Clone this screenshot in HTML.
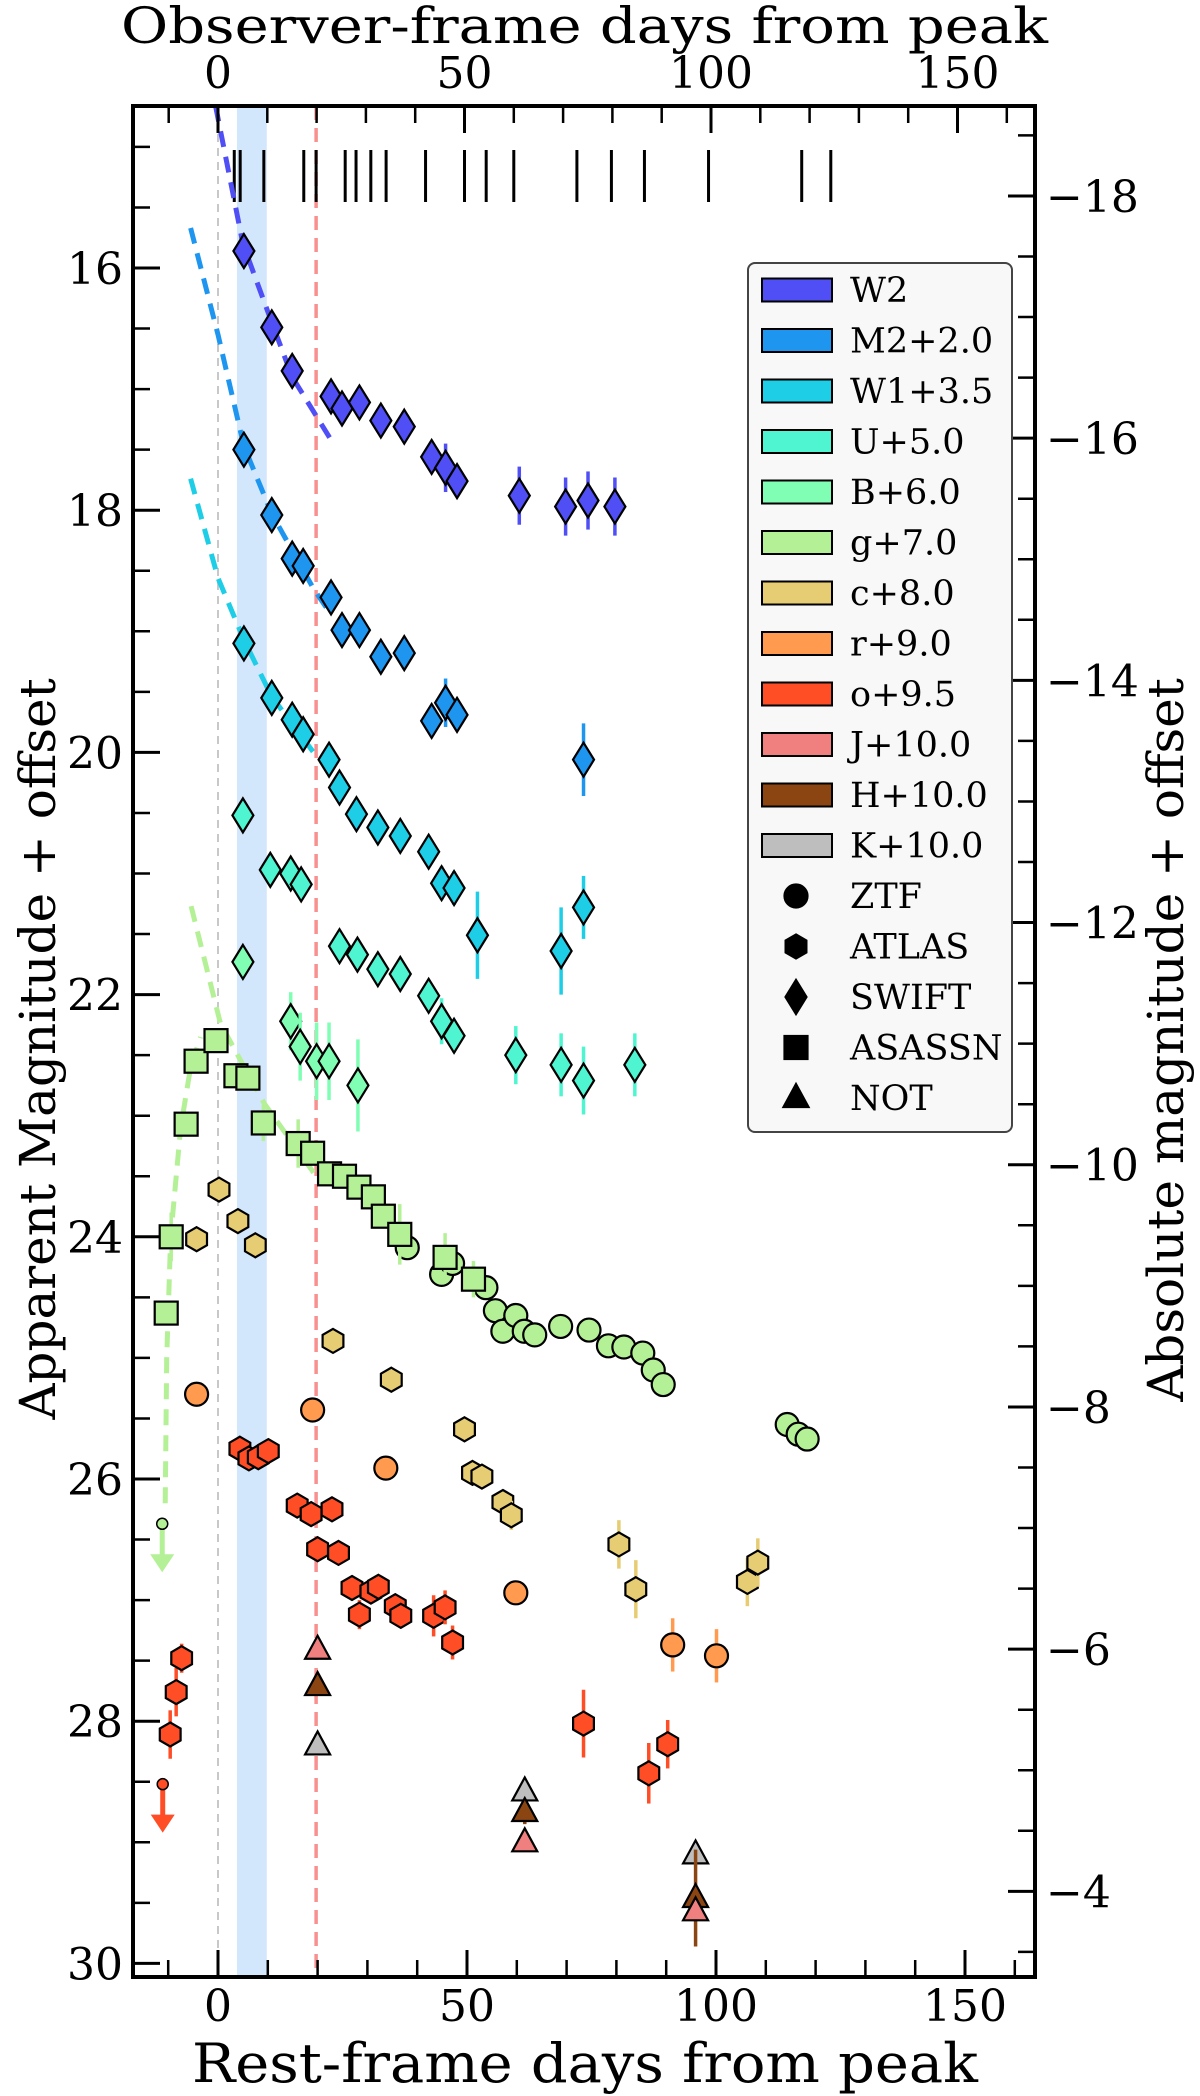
<!DOCTYPE html>
<html><head><meta charset="utf-8"><style>
html,body{margin:0;padding:0;background:#fff;}
svg{display:block;font-family:"DejaVu Serif","Liberation Serif",serif;}
</style></head><body>
<svg id="chart" width="1200" height="2096" viewBox="0 0 1200 2096" xmlns="http://www.w3.org/2000/svg">
<defs><clipPath id="plotclip"><rect x="133" y="106" width="902" height="1871"/></clipPath></defs>
<g id="bg" clip-path="url(#plotclip)"></g>
<g id="marks" clip-path="url(#plotclip)"></g>
<g id="axes"></g>
<g id="legend"></g>
</svg>
<script>
// ---- data ----
const epochDays = [3.3,4.5,9.3,17.4,19.9,25.8,28.0,31.0,34.1,42.1,50.0,54.4,60.0,72.8,79.8,86.5,99.5,118.4,124.3];
const w2Days = [5.2,10.8,14.9,22.7,24.9,28.4,32.7,37.4,42.9,45.7,48.0,60.5,69.8,74.3,79.7];
const w2Mags = [15.86,16.49,16.85,17.06,17.16,17.11,17.26,17.31,17.56,17.65,17.76,17.88,17.97,17.92,17.97];
const w2Errs = [0.03,0.03,0.03,0.1,0.05,0.05,0.05,0.06,0.05,0.2,0.12,0.24,0.24,0.24,0.24];
const m2Days = [5.2,10.8,14.9,17.1,22.7,24.9,28.4,32.7,37.4,42.9,45.7,48.0,73.4];
const m2Mags = [17.50,18.04,18.40,18.46,18.72,18.99,18.99,19.21,19.18,19.74,19.59,19.69,20.06];
const m2Errs = [0.03,0.04,0.05,0.05,0.1,0.08,0.06,0.08,0.1,0.1,0.2,0.12,0.3];
const w1Days = [5.2,10.8,14.9,17.1,22.3,24.4,27.8,32.1,36.6,42.3,44.9,47.4,52.1,68.9,73.4];
const w1Mags = [19.10,19.55,19.73,19.85,20.06,20.29,20.51,20.62,20.69,20.82,21.08,21.12,21.51,21.64,21.28];
const w1Errs = [0.04,0.04,0.05,0.05,0.08,0.06,0.06,0.07,0.08,0.06,0.14,0.14,0.36,0.36,0.26];
const uDays = [5.0,10.5,14.6,16.7,24.4,28.0,32.1,36.6,42.3,44.9,47.4,59.8,68.9,73.4,83.7];
const uMags = [20.52,20.97,21.00,21.09,21.60,21.67,21.79,21.83,22.01,22.22,22.34,22.50,22.58,22.71,22.58];
const uErrs = [0.03,0.04,0.06,0.06,0.08,0.06,0.06,0.06,0.06,0.19,0.14,0.24,0.26,0.28,0.26];
const bDays = [5.0,14.6,16.5,19.8,22.3,28.1];
const bMags = [21.73,22.22,22.43,22.55,22.55,22.75];
const bErrs = [0.05,0.24,0.28,0.32,0.32,0.38];
const gAsDays = [-10.4,-9.4,-6.4,-4.4,-0.4,3.6,6.0,9.1,16.1,19.0,22.4,25.4,28.3,31.2,33.2,36.5,45.6,51.3];
const gAsMags = [24.63,24.0,23.07,22.55,22.38,22.67,22.69,23.06,23.23,23.31,23.48,23.50,23.59,23.67,23.83,23.98,24.17,24.35];
const gAsErrs = [0.05,0.2,0.05,0.05,0.05,0.05,0.05,0.15,0.2,0.1,0.1,0.05,0.05,0.1,0.1,0.25,0.2,0.15];
const gZtfDays = [38.0,44.9,47.1,53.8,55.7,57.2,59.8,61.5,63.6,68.8,74.5,78.4,81.5,85.3,87.4,89.4,114.3,116.5,118.3];
const gZtfMags = [24.09,24.31,24.22,24.42,24.61,24.78,24.65,24.78,24.81,24.74,24.77,24.90,24.91,24.96,25.10,25.22,25.55,25.63,25.67];
const gZtfErrs = [0.03,0.03,0.03,0.03,0.03,0.03,0.03,0.03,0.03,0.1,0.03,0.03,0.03,0.03,0.03,0.03,0.03,0.03,0.03];
const cDays = [-4.3,0.2,4.0,7.5,23.1,34.8,49.5,51.1,53.0,57.2,58.9,80.5,83.9,106.3,108.4];
const cMags = [24.02,23.61,23.87,24.07,24.86,25.18,25.59,25.95,25.98,26.19,26.30,26.54,26.91,26.85,26.69];
const cErrs = [0.03,0.03,0.03,0.03,0.03,0.03,0.1,0.05,0.05,0.1,0.12,0.2,0.24,0.2,0.2];
const rDays = [-4.3,19.0,33.7,59.8,91.3,100.1];
const rMags = [25.30,25.43,25.91,26.94,27.37,27.46];
const rErrs = [0.03,0.03,0.03,0.08,0.22,0.22];
const oDays = [-9.6,-8.4,-7.3,4.4,6.2,8.1,10.1,15.9,18.7,22.9,20.0,24.2,26.9,30.7,32.2,28.4,35.6,36.7,43.3,45.6,47.1,73.4,86.5,90.3];
const oMags = [28.11,27.76,27.48,25.75,25.83,25.82,25.77,26.22,26.29,26.25,26.58,26.61,26.90,26.93,26.89,27.12,27.05,27.13,27.13,27.06,27.35,28.02,28.43,28.19];
const oErrs = [0.2,0.2,0.12,0.03,0.03,0.03,0.03,0.03,0.03,0.03,0.03,0.03,0.03,0.05,0.05,0.12,0.05,0.05,0.17,0.14,0.14,0.28,0.25,0.2];
const jDays = [20.0,61.6,95.9];
const jMags = [27.41,29.0,29.57];
const hDays = [20.0,61.6,95.9];
const hMags = [27.71,28.75,29.46];
const hErrs = [0.05,0.1,0.4];
const kDays = [20.0,61.6,95.9];
const kMags = [28.2,28.58,29.1];
const limDays = [-11.2,-11.1];
const limMags = [26.37,28.52];
const w2FitDays = [-0.5,5,10.8,14.9,22.7];
const w2FitMags = [14.66,15.8,16.45,16.9,17.42];
const m2FitDays = [-5.5,0,5.2,10.8,19.2,22.7];
const m2FitMags = [15.67,16.55,17.47,18.03,18.65,18.86];
const w1FitDays = [-5.5,0,5.2,10.8,19.2,22.0];
const w1FitMags = [17.74,18.56,19.07,19.54,20.0,20.1];
const gFitDays = [-5.4,0.5,9.3,19.2];
const gFitMags = [21.27,22.24,22.9,23.47];
const gRiseDays = [-10.6,-10.3,-9.5,-7.5,-5.5,-3.5];
const gRiseMags = [26.2,25.0,24.0,23.1,22.6,22.35];
const xTicks = [0,50,100,150];
const yTicks = [16,18,20,22,24,26,28,30];
const absTicks = [-18,-16,-14,-12,-10,-8,-6,-4];
const legendBands = ['W2','M2+2.0','W1+3.5','U+5.0','B+6.0','g+7.0','c+8.0','r+9.0','o+9.5','J+10.0','H+10.0','K+10.0'];
const legendSurveys = ['ZTF','ATLAS','SWIFT','ASASSN','NOT'];

// ---- scales ----
const X = d => 218 + 4.98*d;
const Xo = d => 218 + 4.93*d;
const Y = m => 268 + 121.1*(m-16);
const absOffset = 33.405;
const YA = a => Y(a + absOffset);
const NS = 'http://www.w3.org/2000/svg';
function mk(tag, attrs, parent){const e=document.createElementNS(NS,tag);for(const k in attrs)e.setAttribute(k,attrs[k]);if(parent)parent.appendChild(e);return e;}
const bg = document.getElementById('bg'), marks=document.getElementById('marks'), axes=document.getElementById('axes'), legend=document.getElementById('legend');

// background bands
let sp = mk('rect',{x:X(3.8),y:106,width:X(9.8)-X(3.8),height:1871,fill:'#d3e7fc'},bg);


let l0 = mk('line',{x1:X(0),x2:X(0),y1:106,y2:1977,stroke:'#c8c8c8','stroke-width':2,'stroke-dasharray':'8,6'},bg);


let lr = mk('line',{x1:X(19.7),x2:X(19.7),y1:106,y2:1977,stroke:'#f89090','stroke-width':3.5,'stroke-dasharray':'14,8'},bg);


epochDays.forEach(d=>{const t=mk('line',{x1:Xo(d),x2:Xo(d),y1:150,y2:202,stroke:'#000','stroke-width':3},bg);

});

function fit(days,mags,color,name){
  const p = days.map((d,i)=>X(d)+','+Y(mags[i])).join(' ');
  const e = mk('polyline',{points:p,fill:'none',stroke:color,'stroke-width':5,'stroke-dasharray':'16,10'},bg);
  
  
}
fit(w2FitDays,w2FitMags,'#4f4ff5','w2-fit-line');
fit(m2FitDays,m2FitMags,'#1e96f0','m2-fit-line');
fit(w1FitDays,w1FitMags,'#1ecde6','w1-fit-line');
fit(gFitDays,gFitMags,'#b4f096','g-fit-line');
fit(gRiseDays,gRiseMags,'#b4f096','g-rise-line');

function shape(type,cx,cy,color,parent){
  const st={fill:color,stroke:'#000','stroke-width':2.2};
  if(type==='diamond') return mk('polygon',Object.assign({points:`${cx},${cy-17} ${cx+10.5},${cy} ${cx},${cy+17} ${cx-10.5},${cy}`},st),parent);
  if(type==='square') return mk('rect',Object.assign({x:cx-11.5,y:cy-11.5,width:23,height:23},st),parent);
  if(type==='circle') return mk('circle',Object.assign({cx:cx,cy:cy,r:11.5},st),parent);
  if(type==='hex'){let p=[];for(let k=0;k<6;k++){const a=(-90+60*k)*Math.PI/180;p.push((cx+12*Math.cos(a)).toFixed(1)+','+(cy+12*Math.sin(a)).toFixed(1));}return mk('polygon',Object.assign({points:p.join(' ')},st),parent);}
  if(type==='tri') return mk('polygon',Object.assign({points:`${cx},${cy-14} ${cx+12.5},${cy+9} ${cx-12.5},${cy+9}`},st),parent);
}
function series(days,mags,errs,type,color,name){
  const g = mk('g',{},marks);
  
  
  days.forEach((d,i)=>{
    const e = errs?errs[i]:0.03;
    const eb = mk('line',{x1:X(d),x2:X(d),y1:Y(mags[i]-e),y2:Y(mags[i]+e),stroke:color,'stroke-width':3.5},g);
    
    
    const s = shape(type,X(d),Y(mags[i]),color,g);
    
    
  });
}
series(w2Days,w2Mags,w2Errs,'diamond','#4f4ff5','w2-series');
series(m2Days,m2Mags,m2Errs,'diamond','#1e96f0','m2-series');
series(w1Days,w1Mags,w1Errs,'diamond','#1ecde6','w1-series');
series(uDays,uMags,uErrs,'diamond','#4ef5d0','u-series');
series(bDays,bMags,bErrs,'diamond','#80ffb4','b-series');
series(gZtfDays,gZtfMags,gZtfErrs,'circle','#b4f096','g-ztf-series');
series(gAsDays,gAsMags,gAsErrs,'square','#b4f096','g-asassn-series');
series(cDays,cMags,cErrs,'hex','#e6cc73','c-series');
series(rDays,rMags,rErrs,'circle','#ff9a4e','r-series');
series(oDays,oMags,oErrs,'hex','#ff4d26','o-series');
series(kDays,kMags,null,'tri','#bebebe','k-series');
series(hDays,hMags,hErrs,'tri','#8b4513','h-series');
series(jDays,jMags,null,'tri','#f08080','j-series');

// upper limits
const limColors=['#b4f096','#ff4d26'];
limDays.forEach((d,i)=>{
  const g=mk('g',{},marks);
  
  
  const x=X(d),y=Y(limMags[i]),y2=Y(limMags[i]+0.4);
  mk('line',{x1:x,x2:x,y1:y,y2:y2-14,stroke:limColors[i],'stroke-width':5},g);
  mk('polygon',{points:`${x-12},${y2-18} ${x+12},${y2-18} ${x},${y2}`,fill:limColors[i]},g);
  mk('circle',{cx:x,cy:y,r:5.5,fill:limColors[i],stroke:'#000','stroke-width':1.5},g);
});

// axes frame
const fr = mk('rect',{x:133,y:106,width:902,height:1871,fill:'none',stroke:'#000','stroke-width':4},axes);


function tl(x1,y1,x2,y2,w){mk('line',{x1,y1,x2,y2,stroke:'#000','stroke-width':w||2.5},axes);}
for(let d=-10; d<=160; d+=10){const maj=d%50===0;const L=maj?27:17;tl(X(d),1977,X(d),1977-L,maj?3:2.5);tl(Xo(d),106,Xo(d),106+L,maj?3:2.5);}
for(let m=14.5;m<=30;m+=0.5){const y=Y(m);if(y<106||y>1977)continue;const maj=Math.abs(m%2)<1e-6;tl(133,y,133+(maj?27:17),y,maj?3:2.5);}
for(let a=-19;a<=-3.5;a+=0.5){const y=YA(a);if(y<106||y>1977)continue;const maj=Math.abs(a%2)<1e-6;tl(1035,y,1035-(maj?27:17),y,maj?3:2.5);}
function txt(s,attrs,name){const t=mk('text',attrs,axes);t.textContent=s;

return t;}
xTicks.forEach(v=>{txt(String(v),{x:X(v),y:2021,'font-size':44,'text-anchor':'middle'},'x-tick-label');txt(String(v),{x:Xo(v),y:88,'font-size':44,'text-anchor':'middle'},'top-x-tick-label');});
yTicks.forEach(v=>txt(String(v),{x:123,y:Y(v)+16,'font-size':44,'text-anchor':'end'},'y-tick-label'));
absTicks.forEach(v=>txt('\u2212'+Math.abs(v),{x:1046,y:YA(v)+16,'font-size':44,'text-anchor':'start'},'right-y-tick-label'));
txt('Observer-frame days from peak',{x:121,y:43,'font-size':50,textLength:927,lengthAdjust:'spacingAndGlyphs'},'top-x-axis-title');
txt('Rest-frame days from peak',{x:192,y:2082,'font-size':54,textLength:786,lengthAdjust:'spacingAndGlyphs'},'x-axis-title');
txt('Apparent Magnitude + offset',{x:0,y:0,'font-size':50,'text-anchor':'middle',transform:'translate(55,1049) rotate(-90)'},'y-axis-title');
txt('Absolute magnitude + offset',{x:0,y:0,'font-size':50,'text-anchor':'middle',transform:'translate(1183,1040) rotate(-90)'},'right-y-axis-title');

// legend
mk('rect',{x:748,y:263,width:264,height:869,rx:7,fill:'#f8f8f8',stroke:'#444','stroke-width':2},legend);
const bandColors=['#4f4ff5','#1e96f0','#1ecde6','#4ef5d0','#80ffb4','#b4f096','#e6cc73','#ff9a4e','#ff4d26','#f08080','#8b4513','#bebebe'];
legendBands.forEach((s,i)=>{const cy=290+50.5*i;
  const g=mk('g',{},legend);
  
  
  mk('rect',{x:762,y:cy-11.5,width:70,height:23,fill:bandColors[i],stroke:'#000','stroke-width':2},g);
  const t=mk('text',{x:850,y:cy+12,'font-size':35},g);t.textContent=s;});
const survShapes=['circle','hex','diamond','square','tri'];
legendSurveys.forEach((s,i)=>{const cy=290+50.5*(12+i);
  const g=mk('g',{},legend);
  
  
  shape(survShapes[i],796,cy,'#000',g);
  const t=mk('text',{x:850,y:cy+12,'font-size':35},g);t.textContent=s;});
</script>
</body></html>
